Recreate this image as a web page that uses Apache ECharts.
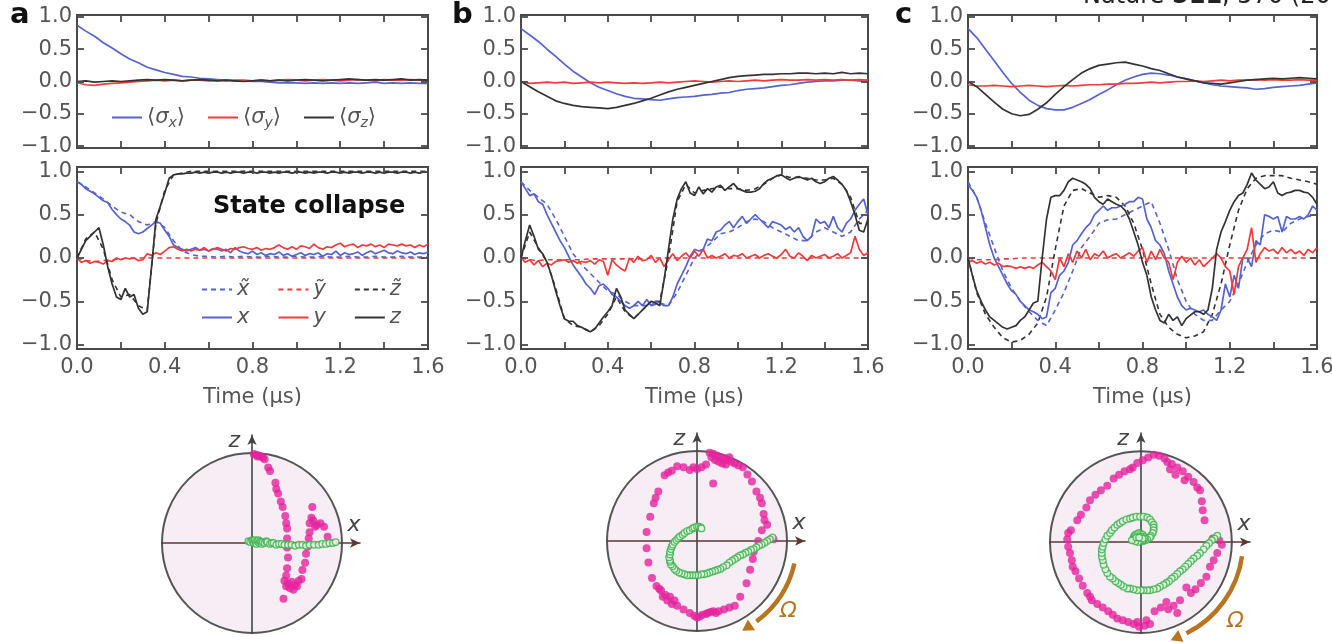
<!DOCTYPE html>
<html><head><meta charset="utf-8">
<script src="https://cdn.jsdelivr.net/npm/echarts@6/dist/echarts.min.js"></script>
<style>html,body{margin:0;padding:0;background:#fff}#c{width:1332px;height:643px}</style>
</head><body><div id="c"></div>
<script>
// ---------------- DATA ----------------
const X_TICKS = [0, 0.2, 0.4, 0.6, 0.8, 1.0, 1.2, 1.4, 1.6];
const X_LABELS = [0, 0.4, 0.8, 1.2, 1.6];
const Y_TICKS = [-1, -0.5, 0, 0.5, 1];
// sampling grids of the traces (µs)
const T02 = Array.from({length: 81}, (_, i) => Math.round(i * 2) / 100);
const T04 = Array.from({length: 41}, (_, i) => Math.round(i * 4) / 100);

// top row: averaged <sigma> (step 0.04 µs)
const TOP_A_SX = [.87,.78,.7,.6,.52,.43,.35,.29,.22,.18,.14,.11,.08,.07,.05,.04,.03,.02,.01,.01,0,0,-.01,-.02,-.02,-.02,-.03,-.02,-.03,-.02,-.03,-.02,-.03,-.02,-.01,-.03,-.02,-.03,-.02,-.03,-.03];
const TOP_A_SY = [-.02,-.05,-.06,-.04,-.03,-.02,-.01,0,.01,.02,.01,.02,.01,.02,.02,.01,.02,.01,.02,.02,.01,.02,.01,.02,.03,.02,.01,.02,.03,.02,.01,.02,.03,.02,.01,.03,.02,.02,.03,.02,.02];
const TOP_A_SZ = [0,.01,-.01,0,.01,0,.01,.02,.03,.02,.03,.02,.01,.02,.03,.02,.01,.02,.01,0,.01,.02,.01,.02,.01,.02,.03,.02,.01,.02,.03,.04,.03,.02,.03,.02,.03,.04,.02,.03,.02];
const TOP_B_SX = [.82,.72,.62,.5,.39,.27,.16,.07,-.02,-.09,-.14,-.19,-.23,-.26,-.27,-.28,-.29,-.27,-.25,-.24,-.23,-.21,-.2,-.18,-.17,-.14,-.12,-.11,-.1,-.08,-.06,-.05,-.03,-.01,0,.01,.01,.02,.02,.01,0];
const TOP_B_SY = [0,-.03,-.02,-.01,-.02,-.01,-.03,-.02,-.01,-.02,-.01,-.02,-.03,-.02,-.03,-.02,-.01,-.02,-.01,0,.01,0,-.01,0,.01,0,.01,.02,.01,.02,.03,.02,.02,.03,.02,.03,.02,.03,.02,.03,.02];
const TOP_B_SZ = [0,-.08,-.16,-.23,-.3,-.34,-.37,-.39,-.4,-.41,-.42,-.4,-.37,-.34,-.3,-.26,-.21,-.16,-.12,-.09,-.06,-.03,0,.03,.06,.08,.09,.1,.11,.11,.12,.12,.13,.13,.12,.13,.12,.14,.12,.13,.12];
const TOP_C_SX = [.82,.68,.5,.32,.14,-.03,-.17,-.29,-.37,-.42,-.44,-.44,-.4,-.34,-.28,-.2,-.13,-.05,.02,.07,.11,.13,.12,.1,.07,.04,.01,-.02,-.05,-.07,-.08,-.09,-.1,-.12,-.11,-.09,-.08,-.07,-.06,-.04,-.02];
const TOP_C_SY = [-.05,-.07,-.07,-.06,-.07,-.08,-.07,-.06,-.07,-.08,-.07,-.06,-.07,-.06,-.05,-.05,-.04,-.04,-.03,-.03,-.02,-.01,-.02,-.01,0,0,.01,0,.01,.02,.01,.02,.02,.03,.02,.03,.02,.02,.03,.02,.02];
const TOP_C_SZ = [0,-.08,-.2,-.32,-.43,-.5,-.53,-.51,-.43,-.33,-.2,-.08,.03,.13,.2,.25,.27,.29,.3,.27,.24,.2,.17,.12,.07,.04,.01,-.02,-.03,-.04,-.02,0,.02,.03,.04,.05,.04,.05,.06,.05,.04];

// bottom row: single trajectories (solid, step 0.02 µs) and predictions (dashed, step 0.04 µs)
const BOT_A_X = [.88,.85,.8,.77,.74,.7,.66,.64,.56,.5,.45,.42,.38,.3,.28,.3,.34,.38,.42,.4,.32,.25,.15,.12,.1,.08,.1,.12,.09,.1,.08,.11,.1,.08,.1,.06,.12,.08,.06,.05,.08,.04,.06,.03,.05,.04,.07,.03,.05,.02,.04,.06,.03,.05,.04,.06,.02,.05,.04,.08,.03,.06,.04,.05,.07,.03,.06,.08,.05,.07,.09,.06,.05,.08,.06,.05,.07,.04,.06,.05,.07];
const BOT_A_Y = [0,-.05,-.03,-.06,-.04,-.05,-.07,-.03,-.04,0,-.02,0,-.01,0,-.03,-.02,.05,.03,.06,.04,.08,.12,.13,.1,.08,.1,.08,.1,.09,.12,.08,.1,.12,.1,.08,.11,.1,.12,.13,.11,.1,.12,.09,.11,.1,.12,.15,.12,.1,.13,.1,.14,.13,.11,.16,.12,.1,.13,.12,.15,.17,.13,.15,.16,.12,.15,.14,.16,.13,.15,.12,.16,.15,.14,.16,.14,.15,.12,.15,.13,.16];
const BOT_A_Z = [0,.1,.2,.25,.3,.35,.15,-.1,-.3,-.45,-.48,-.35,-.45,-.42,-.58,-.65,-.62,-.1,.45,.6,.75,.92,.96,.97,.97,
  .98,.98,.99,.98,.99,.98,.99,.99, .98,.99,.98,.99,.99,.98,.99,.99, .98,.99,.99,.98,.99,.98,.99,.99, .98,.99,.99,.98,.99,.98,.99,.99,
  .98,.99,.99,.98,.99,.98,.99,.99, .98,.99,.99,.98,.99,.98,.99,.99, .98,.99,.99,.98,.99,.98,.99,.99];
const BOT_A_XT = [.88,.82,.75,.68,.6,.53,.5,.42,.38,.42,.35,.2,.08,.04,.02,.02,.01,.02,.01,.02,.01,.01,.02,.01,.01,.02,.01,.01,.02,.01,.01,.02,.01,.01,.02,.01,.01,.02,.01,.01,.01];
const BOT_A_YT = [0,-.03,-.04,-.03,-.02,-.01,0,0,0,0,0,0,0,0,0,0,0,0,0,0,0,0,0,0,0,0,0,0,0,0,0,0,0,0,0,0,0,0,0,0,0];
const BOT_A_ZT = [0,.22,.3,.1,-.25,-.45,-.42,-.55,-.6,.4,.78,.96,.98,1,1,1,1,1,1,1,1,1,1,1,1,1,1,1,1,1,1,1,1,1,1,1,1,1,1,1,1];

const BOT_B_X = [.88,.8,.72,.74,.65,.62,.5,.4,.3,.2,.12,.02,-.08,-.15,-.22,-.3,-.35,-.42,-.32,-.3,-.35,-.42,-.45,-.5,-.55,-.58,-.55,-.5,-.55,-.48,-.55,-.5,-.52,-.55,-.55,-.45,-.3,-.2,-.1,.02,.1,.08,.1,.22,.2,.3,.32,.38,.42,.35,.42,.48,.4,.45,.5,.45,.4,.35,.42,.4,.38,.33,.36,.3,.35,.25,.2,.25,.45,.4,.42,.35,.48,.35,.3,.4,.45,.55,.62,.68,.5];
const BOT_B_Y = [0,-.05,-.02,-.08,-.03,-.1,-.06,-.08,-.04,-.03,-.02,-.05,-.03,-.06,-.04,-.05,-.03,-.07,-.02,-.04,-.2,-.02,-.08,-.12,-.15,0,-.05,.02,-.03,-.02,.03,-.05,0,-.1,-.02,.05,-.03,.02,.06,0,.08,.02,.1,0,.03,0,.02,.05,0,.03,.02,.05,0,.02,.04,0,.03,.05,.02,0,.04,.1,.02,0,.06,.02,-.03,.03,0,.02,.04,0,.02,.05,0,.03,.06,.25,.1,.03,.06];
const BOT_B_Z = [0,.2,.38,.25,.1,.05,-.05,-.2,-.38,-.55,-.7,-.73,-.73,-.78,-.8,-.83,-.85,-.82,-.75,-.68,-.62,-.55,-.35,-.45,-.6,-.65,-.7,-.65,-.6,-.55,-.5,-.52,-.55,-.25,.1,.45,.68,.8,.88,.75,.72,.82,.74,.8,.76,.82,.84,.78,.82,.86,.8,.78,.76,.76,.77,.8,.86,.9,.92,.95,.96,.93,.9,.92,.94,.92,.9,.92,.88,.86,.88,.92,.94,.9,.85,.78,.65,.5,.32,.3,.45];
const BOT_B_XT = [.88,.78,.7,.62,.45,.25,.05,-.08,-.18,-.28,-.38,-.42,-.5,-.55,-.55,-.55,-.52,-.55,-.4,-.2,0,.1,.18,.28,.3,.35,.42,.45,.42,.35,.3,.25,.2,.2,.3,.35,.3,.25,.3,.45,.55];
const BOT_B_YT = [0,-.02,-.03,-.02,-.02,-.02,-.02,-.02,-.01,-.01,-.01,-.01,-.01,-.01,-.01,0,0,0,0,0,0,0,0,0,0,0,0,0,0,0,0,0,0,0,0,0,0,0,0,0,0];
const BOT_B_ZT = [0,.3,.12,-.05,-.35,-.7,-.78,-.8,-.85,-.78,-.65,-.45,-.62,-.7,-.6,-.5,-.5,0,.65,.85,.75,.78,.8,.82,.8,.8,.78,.8,.85,.92,.96,.93,.93,.92,.9,.9,.92,.85,.7,.4,.4];

const BOT_C_X = [.85,.78,.7,.55,.35,.15,0,-.1,-.2,-.3,-.38,-.42,-.5,-.55,-.6,-.62,-.65,-.7,-.68,-.4,-.35,-.2,-.15,-.05,.15,.2,.28,.35,.4,.5,.55,.6,.55,.58,.58,.6,.62,.65,.65,.7,.68,.45,.35,.2,.15,.05,-.15,-.3,-.45,-.55,-.6,-.58,-.6,-.62,-.6,-.65,-.68,-.72,-.6,-.3,-.45,-.2,-.35,0,0,-.1,.2,.15,.5,.48,.45,.48,.3,.48,.45,.45,.48,.45,.5,.6,.55];
const BOT_C_Y = [-.05,-.03,-.06,-.04,-.07,-.05,-.08,-.06,-.1,-.09,-.1,-.12,-.1,-.12,-.1,-.12,-.08,-.05,-.1,-.15,-.25,0,-.1,.05,-.05,.08,0,.1,-.02,.05,.02,.08,0,.03,.05,0,.03,.06,.02,.08,.12,-.05,.08,-.02,.1,0,-.05,-.25,-.05,.02,-.05,0,-.08,-.02,-.1,-.05,0,.05,0,-.1,-.15,-.42,-.1,0,.1,.35,-.05,.05,.12,.08,.1,.05,.12,.06,.1,.05,.08,.03,.1,.06,.12];
const BOT_C_Z = [0,-.2,-.38,-.5,-.6,-.68,-.72,-.76,-.8,-.82,-.8,-.78,-.72,-.68,-.6,-.52,-.5,0,.45,.7,.72,.72,.78,.88,.92,.9,.88,.85,.8,.7,.65,.62,.68,.65,.62,.6,.55,.45,.3,.15,-.05,-.2,-.45,-.6,-.72,-.75,-.65,-.72,-.68,-.78,-.7,-.66,-.62,-.62,-.65,-.6,-.35,.1,.3,.42,.55,.65,.72,.75,.85,.98,.9,.85,.8,.82,.88,.75,.72,.75,.76,.78,.78,.76,.75,.7,.62];
const BOT_C_XT = [.88,.7,.4,.12,-.15,-.35,-.5,-.62,-.72,-.78,-.6,-.4,-.15,.12,.25,.4,.44,.45,.5,.55,.6,.65,.4,.1,-.25,-.5,-.65,-.72,-.72,-.6,-.5,-.3,-.05,.15,.28,.32,.3,.4,.45,.48,.5];
const BOT_C_YT = [0,-.02,-.02,-.02,-.01,-.01,0,0,0,0,0,0,0,0,0,0,0,0,0,0,0,0,0,0,0,0,0,0,0,0,0,0,0,0,0,0,0,0,0,0,0];
const BOT_C_ZT = [0,-.4,-.65,-.8,-.92,-.97,-.95,-.88,-.75,-.45,.1,.6,.78,.8,.75,.7,.72,.7,.6,.4,.1,-.3,-.65,-.8,-.88,-.92,-.9,-.85,-.65,-.3,.15,.55,.8,.92,.95,.95,.95,.92,.9,.88,.85];

// Bloch-circle projections (x, z): measured states (magenta) and averaged (green)
const BLOCH_A_MEAS = [[.02,.99],[.05,.98],[.08,.97],[.1,.96],[.12,.95],[.06,.96],[.14,.93],[.18,.84],[.2,.8],[.26,.67],[.27,.6],[.29,.55],[.32,.46],[.34,.4],[.37,.3],[.38,.22],[.39,.16],[.39,.05],[.39,-.05],[.4,-.16],[.39,-.28],[.38,-.36],[.36,-.42],[.4,-.45],[.44,-.43],[.48,-.46],[.52,-.42],[.55,-.4],[.42,-.5],[.46,-.52],[.38,-.48],[.5,-.48],[.35,-.62],[.56,-.3],[.59,-.22],[.6,-.12],[.62,-.04],[.63,.05],[.64,.12],[.64,.22],[.68,.25],[.72,.2],[.76,.22],[.8,.18],[.7,.18],[.66,.28],[.67,.4],[.84,.07]];
const BLOCH_A_AVG = [[-.04,.02],[-.02,.01],[0,.03],[.01,.02],[.02,0],[.03,.03],[.04,.01],[.05,-.01],[.06,.02],[.07,.03],[.08,0],[.09,.02],[.1,.01],[.11,-.01],[.12,.01],[.14,0],[.16,.02],[.17,.01],[.2,-.01],[.22,.0],[.24,0],[.27,-.02],[.3,-.01],[.33,-.01],[.36,-.02],[.4,-.02],[.44,-.02],[.48,-.03],[.52,-.02],[.56,-.02],[.6,-.03],[.64,-.02],[.69,-.02],[.74,-.02],[.78,-.01],[.82,-.01],[.86,0],[.9,0],[.93,.01]];
const BLOCH_B_MEAS = [[.14,.98],[.18,.97],[.22,.95],[.26,.93],[.3,.92],[.34,.9],[.38,.88],[.42,.86],[.46,.84],[.2,.9],[.28,.86],[.32,.85],[.24,.88],[.16,.93],[.36,.93],[.1,.85],[.05,.82],[0,.8],[-.04,.82],[-.08,.79],[-.15,.82],[-.22,.83],[-.28,.78],[-.32,.76],[-.36,.73],[.18,.64],[-.43,.55],[-.46,.48],[-.48,.42],[-.52,.27],[-.56,.1],[-.56,-.08],[-.54,-.24],[-.5,-.41],[-.45,-.5],[-.42,-.53],[-.4,-.55],[-.35,-.6],[-.3,-.62],[-.25,-.66],[-.38,-.62],[-.33,-.66],[-.28,-.7],[-.22,-.72],[-.15,-.76],[-.08,-.8],[-.03,-.83],[0,-.85],[.03,-.84],[.06,-.82],[.1,-.81],[.12,-.8],[.15,-.79],[.18,-.78],[.21,-.8],[.24,-.78],[.3,-.76],[.36,-.74],[.42,-.72],[.48,-.62],[.55,-.47],[.59,-.32],[.62,-.2],[.63,-.12],[.68,0],[.72,.12],[.75,.23],[.74,.3],[.72,.42],[.7,.48],[.66,.55],[.61,.66],[.56,.74],[.51,.82],[.85,.02],[.78,.18]];
const BLOCH_B_AVG = [[.84,.04],[.81,.02],[.78,0],[.75,-.02],[.72,-.04],[.69,-.05],[.66,-.07],[.63,-.09],[.6,-.1],[.57,-.12],[.54,-.13],[.51,-.15],[.48,-.16],[.45,-.18],[.42,-.2],[.39,-.22],[.36,-.24],[.33,-.27],[.29,-.29],[.26,-.31],[.23,-.32],[.2,-.33],[.17,-.34],[.14,-.35],[.11,-.36],[.08,-.37],[.05,-.37],[.01,-.38],[-.02,-.38],[-.05,-.38],[-.08,-.38],[-.11,-.38],[-.14,-.37],[-.17,-.36],[-.2,-.35],[-.23,-.33],[-.25,-.31],[-.27,-.28],[-.29,-.26],[-.3,-.23],[-.3,-.21],[-.31,-.18],[-.3,-.15],[-.3,-.12],[-.29,-.09],[-.28,-.06],[-.27,-.04],[-.25,-.01],[-.23,.01],[-.21,.03],[-.19,.05],[-.16,.07],[-.14,.09],[-.11,.11],[-.08,.12],[-.05,.14],[-.03,.15],[0,.16],[.02,.16],[.04,.15],[.05,.14]];
const BLOCH_C_MEAS = [[.89,-.03],[.84,-.12],[.8,-.2],[.76,-.27],[.72,-.38],[.66,-.45],[.6,-.52],[.55,-.56],[.5,-.5],[.43,-.64],[.36,-.7],[.3,-.74],[.22,-.72],[.15,-.76],[.4,-.78],[.28,-.66],[.1,-.9],[.04,-.92],[-.02,-.93],[-.08,-.9],[-.14,-.88],[-.2,-.86],[-.26,-.84],[.06,-.86],[-.04,-.88],[-.31,-.8],[-.36,-.76],[-.42,-.72],[-.48,-.68],[-.54,-.64],[-.56,-.6],[-.59,-.56],[-.64,-.48],[-.68,-.4],[-.72,-.32],[-.75,-.27],[-.76,-.2],[-.78,-.12],[-.8,-.05],[-.81,.03],[-.8,.1],[-.77,.13],[-.7,.24],[-.66,.3],[-.6,.38],[-.56,.46],[-.5,.52],[-.44,.57],[-.37,.62],[-.3,.7],[-.24,.74],[-.18,.78],[-.12,.8],[-.09,.82],[-.04,.87],[.02,.9],[.08,.93],[.14,.96],[.2,.95],[.26,.92],[.29,.88],[.34,.86],[.4,.82],[.46,.78],[.52,.72],[.58,.66],[.62,.6],[.38,.74],[.48,.68],[.32,.8],[.65,.57],[.67,.45],[.68,.35],[.7,.24],[.79,.04],[.86,.02]];
const BLOCH_C_AVG = [[.84,.07],[.81,.04],[.78,.02],[.75,-.01],[.72,-.04],[.69,-.08],[.65,-.12],[.62,-.15],[.58,-.18],[.55,-.21],[.52,-.24],[.49,-.27],[.46,-.3],[.43,-.32],[.4,-.35],[.37,-.38],[.34,-.4],[.31,-.43],[.28,-.45],[.25,-.47],[.21,-.49],[.18,-.51],[.14,-.52],[.1,-.53],[.07,-.53],[.03,-.53],[0,-.53],[-.04,-.53],[-.08,-.52],[-.12,-.51],[-.15,-.51],[-.19,-.49],[-.22,-.47],[-.25,-.45],[-.28,-.43],[-.31,-.4],[-.34,-.38],[-.37,-.34],[-.39,-.3],[-.41,-.25],[-.42,-.2],[-.43,-.16],[-.43,-.12],[-.43,-.08],[-.42,-.05],[-.41,-.01],[-.39,.03],[-.37,.07],[-.34,.1],[-.32,.13],[-.29,.16],[-.26,.19],[-.23,.21],[-.2,.23],[-.16,.25],[-.12,.26],[-.09,.27],[-.05,.28],[-.01,.28],[.03,.28],[.07,.27],[.1,.25],[.12,.22],[.14,.19],[.14,.16],[.14,.13],[.13,.1],[.11,.07],[.1,.05],[.07,.03],[.05,.02],[.02,.01],[0,.02],[-.03,.02],[-.05,.03],[-.07,.04],[-.08,.05],[-.07,.07],[-.06,.08],[-.04,.09],[-.02,.1],[0,.09],[.02,.08],[.03,.06],[.04,.04],[.02,.02],[-.01,.01],[-.03,0],[-.06,.01],[-.1,.02],[-.05,.05],[0,.06],[.02,.04],[-.02,.05]];

// ---------------- STYLE / LAYOUT ----------------
const FONT = 'DejaVu Sans';
const GRAY = '#555';
const FRAME = '#4a4a4a';
const BLUE = '#5563d0', RED = '#f03a3c', BLACK = '#333';
const COLS = [{left: 77, width: 351}, {left: 521, width: 347}, {left: 968, width: 349}];
const ROWS = [{top: 15, height: 133, ext: 1.03}, {top: 167, height: 182, ext: 1.05}];
const CIRC = [{left: 162, top: 435, size: 198}, {left: 607, top: 433, size: 198}, {left: 1050, top: 433, size: 200}];

const grid = [], xAxis = [], yAxis = [], series = [];
const pairs = (t, v) => v.map((y, i) => [t[i], y]);
const lab = {color: GRAY, fontSize: 21, fontFamily: FONT};

function addPanel(col, row, showX) {
  const gi = grid.length;
  const R = ROWS[row];
  grid.push({left: COLS[col].left, width: COLS[col].width, top: R.top, height: R.height,
    show: true, borderColor: FRAME, borderWidth: 2, backgroundColor: 'transparent', outerBoundsMode: 'none'});
  const tick = {show: true, inside: true, length: 7, lineStyle: {color: FRAME, width: 1.8}};
  const noLine = {show: false, onZero: false};
  xAxis.push({gridIndex: gi, type: 'value', min: 0, max: 1.6, position: 'bottom', z: 5,
    axisLine: noLine, splitLine: {show: false},
    axisTick: Object.assign({customValues: X_TICKS}, tick),
    axisLabel: Object.assign({show: showX, customValues: X_LABELS, margin: 8, formatter: v => v.toFixed(1)}, lab),
    name: showX ? 'Time (µs)' : '', nameLocation: 'middle', nameGap: 38,
    nameTextStyle: {color: GRAY, fontSize: 21, fontFamily: FONT}});
  xAxis.push({gridIndex: gi, type: 'value', min: 0, max: 1.6, position: 'top', z: 5,
    axisLine: noLine, splitLine: {show: false},
    axisTick: Object.assign({customValues: X_TICKS}, tick), axisLabel: {show: false}});
  yAxis.push({gridIndex: gi, type: 'value', min: -R.ext, max: R.ext, position: 'left', z: 5,
    axisLine: noLine, splitLine: {show: false},
    axisTick: Object.assign({customValues: Y_TICKS}, tick),
    axisLabel: Object.assign({customValues: Y_TICKS, margin: 5,
      formatter: v => (v < 0 ? '\u2212' : '') + Math.abs(v).toFixed(1)}, lab)});
  yAxis.push({gridIndex: gi, type: 'value', min: -R.ext, max: R.ext, position: 'right', z: 5,
    axisLine: noLine, splitLine: {show: false},
    axisTick: Object.assign({customValues: Y_TICKS}, tick), axisLabel: {show: false}});
  return {x: xAxis.length - 2, y: yAxis.length - 2};
}

function line(name, ax, t, v, color, dashed) {
  series.push({name, type: 'line', xAxisIndex: ax.x, yAxisIndex: ax.y, data: pairs(t, v),
    symbol: 'none', showSymbol: false, silent: true, animation: false,
    lineStyle: {color, width: dashed ? 1.6 : 1.7, type: dashed ? [5, 4] : 'solid'},
    itemStyle: {color}, z: dashed ? 3 : 4});
}

// top row
const TOPS = [[TOP_A_SX, TOP_A_SY, TOP_A_SZ], [TOP_B_SX, TOP_B_SY, TOP_B_SZ], [TOP_C_SX, TOP_C_SY, TOP_C_SZ]];
TOPS.forEach((d, c) => {
  const ax = addPanel(c, 0, false);
  const p = c === 0 ? '' : 'p' + c + '-';
  line(p + 'σx', ax, T04, d[0], BLUE, false);
  line(p + 'σy', ax, T04, d[1], RED, false);
  line(p + 'σz', ax, T04, d[2], BLACK, false);
});
// bottom row
const BOTS = [
  [BOT_A_X, BOT_A_Y, BOT_A_Z, BOT_A_XT, BOT_A_YT, BOT_A_ZT],
  [BOT_B_X, BOT_B_Y, BOT_B_Z, BOT_B_XT, BOT_B_YT, BOT_B_ZT],
  [BOT_C_X, BOT_C_Y, BOT_C_Z, BOT_C_XT, BOT_C_YT, BOT_C_ZT]];
BOTS.forEach((d, c) => {
  const ax = addPanel(c, 1, true);
  const p = c === 0 ? '' : 'q' + c + '-';
  line(p + 'x\u0303', ax, T04, d[3], BLUE, true);
  line(p + 'y\u0303', ax, T04, d[4], RED, true);
  line(p + 'z\u0303', ax, T04, d[5], BLACK, true);
  line(p + 'x', ax, T02, d[0], BLUE, false);
  line(p + 'y', ax, T02, d[1], RED, false);
  line(p + 'z', ax, T02, d[2], BLACK, false);
});

// Bloch circles
const BLOCH = [[BLOCH_A_MEAS, BLOCH_A_AVG], [BLOCH_B_MEAS, BLOCH_B_AVG], [BLOCH_C_MEAS, BLOCH_C_AVG]];
BLOCH.forEach((d, c) => {
  const gi = grid.length;
  const C = CIRC[c];
  grid.push({left: C.left, top: C.top, width: C.size, height: C.size, show: false, outerBoundsMode: 'none'});
  xAxis.push({gridIndex: gi, type: 'value', min: -1, max: 1.2, z: 3,
    axisLine: {show: true, onZero: true, symbol: ['none', 'arrow'], symbolSize: [7, 10],
      lineStyle: {color: '#5e3838', width: 1.6}},
    axisTick: {show: false}, axisLabel: {show: false}, splitLine: {show: false},
    name: 'x', nameLocation: 'end', nameGap: -6,
    nameTextStyle: {fontStyle: 'italic', fontSize: 22, color: '#444', fontFamily: FONT,
      align: 'center', verticalAlign: 'bottom', padding: [0, 0, 7, 0]}});
  yAxis.push({gridIndex: gi, type: 'value', min: -1, max: 1.2, z: 3,
    axisLine: {show: true, onZero: true, symbol: ['none', 'arrow'], symbolSize: [7, 10],
      lineStyle: {color: '#444', width: 1.6}},
    axisTick: {show: false}, axisLabel: {show: false}, splitLine: {show: false},
    name: 'z', nameLocation: 'end', nameGap: -6,
    nameTextStyle: {fontStyle: 'italic', fontSize: 22, color: '#444', fontFamily: FONT,
      align: 'right', verticalAlign: 'middle', padding: [0, 12, 0, 0]}});
  const xi = xAxis.length - 1, yi = yAxis.length - 1;
  series.push({type: 'custom', xAxisIndex: xi, yAxisIndex: yi, data: [[0, 0, 1]], clip: false, z: 1,
    silent: true, animation: false,
    renderItem: (params, api) => {
      const ctr = api.coord([api.value(0), api.value(1)]);
      const r = api.size([api.value(2), 0])[0];
      return {type: 'circle', shape: {cx: ctr[0], cy: ctr[1], r},
        style: {fill: '#f7eef5', stroke: '#555', lineWidth: 2}};
    }});
  series.push({type: 'scatter', xAxisIndex: xi, yAxisIndex: yi, data: d[0], symbol: 'circle', symbolSize: 8,
    itemStyle: {color: '#e5239d'}, z: 4, silent: true, animation: false});
  series.push({type: 'scatter', xAxisIndex: xi, yAxisIndex: yi, data: d[1], symbol: 'circle', symbolSize: 6.5,
    itemStyle: {color: '#eefbee', borderColor: '#38b048', borderWidth: 1.4}, z: 5, silent: true, animation: false});
});

// Omega arrows (decoration)
function omegaArrow(cx, cy, r, a0, a1) {
  const A0 = a0 * Math.PI / 180, A1 = a1 * Math.PI / 180;
  const ex = cx + r * Math.cos(A1), ey = cy + r * Math.sin(A1);
  const tx = -Math.sin(A1), ty = Math.cos(A1), nx = Math.cos(A1), ny = Math.sin(A1);
  return [
    {type: 'arc', shape: {cx, cy, r, startAngle: A0, endAngle: A1 - 0.06, clockwise: true},
      style: {stroke: '#b8741f', lineWidth: 4.5, fill: null}, z: 10},
    {type: 'polygon', shape: {points: [[ex + tx * 11, ey + ty * 11], [ex + nx * 6.5, ey + ny * 6.5], [ex - nx * 6.5, ey - ny * 6.5]]},
      style: {fill: '#b8741f'}, z: 10}];
}
const graphic = [].concat(
  omegaArrow(697, 541, 100, 13, 57),
  omegaArrow(1141, 542, 102, 8, 67),
  [
    {type: 'text', left: 780, top: 600, style: {text: 'Ω', font: 'italic 22px "DejaVu Sans"', fill: '#b8741f'}},
    {type: 'text', left: 1227, top: 610, style: {text: 'Ω', font: 'italic 22px "DejaVu Sans"', fill: '#b8741f'}},
    {type: 'text', left: 10, top: 1, style: {text: 'a', font: 'bold 29px "DejaVu Sans"', fill: '#111'}},
    {type: 'text', left: 452, top: 1, style: {text: 'b', font: 'bold 29px "DejaVu Sans"', fill: '#111'}},
    {type: 'text', left: 895, top: 1, style: {text: 'c', font: 'bold 29px "DejaVu Sans"', fill: '#111'}},
    {type: 'text', left: 213, top: 195, style: {text: 'State collapse', font: 'bold 24px "DejaVu Sans"', fill: '#111'}},
    {type: 'text', left: 1083, top: -15, style: {text: '{n|Nature }{b|511}{n|, 570 (2014)}',
      rich: {n: {font: '24px "DejaVu Sans"', fill: '#222'}, b: {font: 'bold 24px "DejaVu Sans"', fill: '#222'}}}}
  ]);

const legendText = {color: GRAY, fontSize: 21, fontFamily: FONT};
const hideSym = {opacity: 0, borderWidth: 0};
const option = {
  animation: false,
  backgroundColor: '#fff',
  grid, xAxis, yAxis, series, graphic,
  legend: [
    {data: ['σx', 'σy', 'σz'], left: 106, top: 102, itemWidth: 30, itemHeight: 12, itemGap: 22,
      selectedMode: false, itemStyle: hideSym,
      formatter: n => '⟨{i|σ}{s|' + n.slice(1) + '}⟩',
      textStyle: Object.assign({rich: {
        i: {fontStyle: 'italic', fontSize: 21, fontFamily: FONT, color: GRAY, lineHeight: 26, verticalAlign: 'middle'},
        s: {fontStyle: 'italic', fontSize: 14, fontFamily: FONT, color: GRAY, lineHeight: 12, verticalAlign: 'bottom'}}}, legendText)},
    {data: ['x\u0303', 'y\u0303', 'z\u0303'], left: 196, top: 274, itemWidth: 30, itemHeight: 12, itemGap: 28,
      selectedMode: false, itemStyle: hideSym, textStyle: Object.assign({fontStyle: 'italic'}, legendText)},
    {data: ['x', 'y', 'z'], left: 196, top: 302, itemWidth: 30, itemHeight: 12, itemGap: 28,
      selectedMode: false, itemStyle: hideSym, textStyle: Object.assign({fontStyle: 'italic'}, legendText)}
  ]
};
const chart = echarts.init(document.getElementById('c'), null, {renderer: 'canvas'});
chart.setOption(option);
</script>
</body></html>
